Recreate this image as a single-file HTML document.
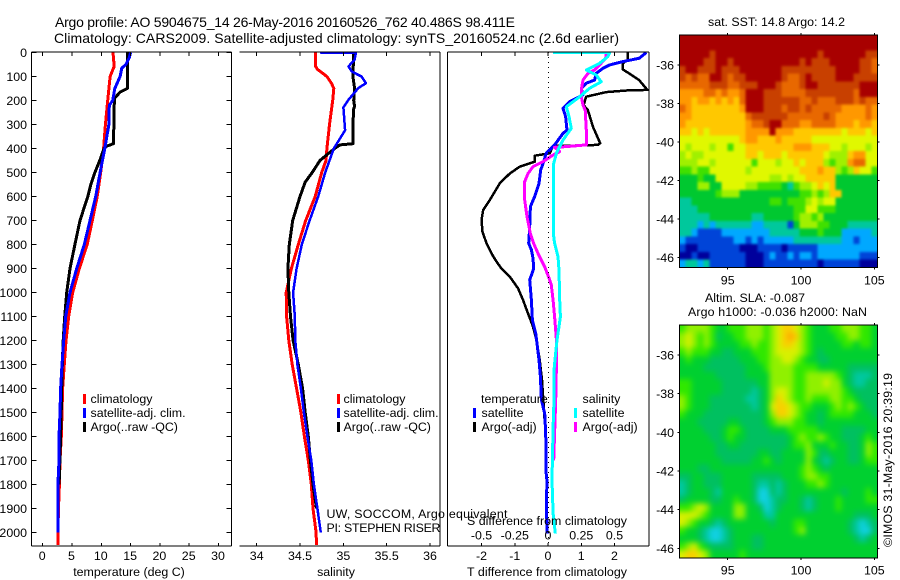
<!DOCTYPE html>
<html lang="en">
<head>
<meta charset="utf-8">
<title>Argo profile 5904675_14</title>
<style>
html,body{margin:0;padding:0;background:#fff;width:900px;height:580px;overflow:hidden}
svg{display:block}
text{font-family:"Liberation Sans",sans-serif;font-size:12.4px;fill:#000}
text.t14{font-size:14px}
</style>
</head>
<body>
<svg id="chart" xmlns="http://www.w3.org/2000/svg" width="900" height="580" viewBox="0 0 900 580">
  <text class="t14" x="55" y="27" textLength="460">Argo profile: AO 5904675_14 26-May-2016 20160526_762 40.486S 98.411E</text>
  <text class="t14" x="54" y="43" textLength="565">Climatology: CARS2009. Satellite-adjusted climatology: synTS_20160524.nc (2.6d earlier)</text>

  <g id="layer-maps"></g>
  <g id="layer-lines"></g>
  <g id="layer-axes"></g>

  <g>
    <rect x="83" y="394" width="3" height="10" fill="#ff0000"/>
    <rect x="83" y="408" width="3" height="10" fill="#0000ff"/>
    <rect x="83" y="422" width="3" height="10" fill="#000"/>
    <text x="90.5" y="403">climatology</text>
    <text x="90.5" y="417">satellite-adj. clim.</text>
    <text x="90.5" y="431">Argo(..raw -QC)</text>
  </g>
  <g>
    <rect x="337" y="394" width="3" height="10" fill="#ff0000"/>
    <rect x="337" y="408" width="3" height="10" fill="#0000ff"/>
    <rect x="337" y="422" width="3" height="10" fill="#000"/>
    <text x="343.5" y="403">climatology</text>
    <text x="343.5" y="417">satellite-adj. clim.</text>
    <text x="343.5" y="431">Argo(..raw -QC)</text>
  </g>
  <g>
    <text x="481" y="403">temperature</text>
    <text x="582.5" y="403">salinity</text>
    <rect x="473" y="408" width="3" height="10" fill="#0000ff"/>
    <rect x="473" y="422" width="3" height="10" fill="#000"/>
    <rect x="574" y="408" width="3" height="10" fill="#00ffff"/>
    <rect x="574" y="422" width="3" height="10" fill="#ff00ff"/>
    <text x="481.5" y="417">satellite</text>
    <text x="481.5" y="431">Argo(-adj)</text>
    <text x="582.5" y="417">satellite</text>
    <text x="582.5" y="431">Argo(-adj)</text>
  </g>

  <text x="129" y="576" text-anchor="middle">temperature (deg C)</text>
  <text x="336" y="576" text-anchor="middle">salinity</text>
  <text x="547" y="576" text-anchor="middle" textLength="160">T difference from climatology</text>
  <text x="547" y="525" text-anchor="middle" textLength="160">S difference from climatology</text>
  <text x="326.5" y="518" textLength="181">UW, SOCCOM, Argo equivalent</text>
  <text x="326.5" y="532" textLength="114">PI: STEPHEN RISER</text>

  <text x="776.5" y="26" text-anchor="middle" textLength="137">sat. SST: 14.8 Argo: 14.2</text>
  <text x="705" y="302" textLength="100">Altim. SLA: -0.087</text>
  <text x="688" y="316" textLength="179">Argo h1000: -0.036 h2000: NaN</text>
  <text transform="translate(892 547) rotate(-90)" textLength="174">©IMOS 31-May-2016 20:39:19</text>
</svg>
<script>
/* ---------- axis tick data ---------- */
const depthTicks = [0,100,200,300,400,500,600,700,800,900,1000,1100,1200,1300,1400,1500,1600,1700,1800,1900,2000];
const tempTicks = [0,5,10,15,20,25,30];
const salTicks = [34,34.5,35,35.5,36];
const salTickLabels = ['34','34.5','35','35.5','36'];
const tDiffTicks = [-2,-1,0,1,2];
const sDiffTicks = [-0.5,-0.25,0,0.25,0.5];
const sDiffTickLabels = ['-0.5','-0.25','0','0.25','0.5'];
const lonTicks = [95,100,105];
const latTicks = [-36,-38,-40,-42,-44,-46];

/* ---------- temperature panel ---------- */
const tempClimDepth = [0,58,100,200,300,400,500,600,700,800,900,1000,1100,1200,1300,1400,1500,1600,1700,1800,1900,2000,2052];
const tempClim = [12,12.2,11.5,11.1,10.7,10.4,9.9,9.3,8.47,7.6,6.25,5.12,4.44,3.98,3.69,3.4,3.3,3.18,2.96,2.85,2.7,2.6,2.6];
const tempSatDepth = [0,20,50,65,100,150,200,220,300,400,500,600,700,800,900,1000,1100,1200,1300,1400,1500,1600,1700,1800,1900,2000];
const tempSat = [15,14.8,14.2,13.5,13.2,12.3,11.95,11.36,11.3,10.6,9.8,9.05,8.07,7.1,5.8,4.66,3.92,3.58,3.29,3.05,2.96,2.78,2.78,2.6,2.6,2.6];
const tempArgoDepth = [0,150,165,190,230,380,390,400,455,500,550,600,700,800,900,1000,1100,1200,1300,1400,1500,1600,1800];
const tempArgo = [14.45,14.45,13.2,12.3,12.17,12.1,10.9,10.46,9.66,8.9,8.2,7.7,6.37,5.5,4.66,4.1,3.75,3.5,3.35,3.25,3.15,3.05,2.8];

/* ---------- salinity panel ---------- */
const salClimDepth = [0,58,70,100,130,150,200,300,400,450,500,600,700,800,900,1000,1100,1200,1300,1400,1500,1600,1700,1800,1900,2000,2052];
const salClim = [34.68,34.68,34.7,34.81,34.865,34.89,34.877,34.84,34.81,34.8,34.75,34.675,34.565,34.48,34.4,34.34,34.345,34.37,34.41,34.46,34.51,34.55,34.595,34.63,34.65,34.685,34.69];
const salSatDepth = [0,2,30,58,80,100,128,149,197,229,324,400,500,600,700,800,900,1000,1100,1200,1300,1400,1500,1600,1700,1800,1900,2000];
const salSat = [34.73,35.145,35.13,35.06,35.1,35.21,35.26,35.17,35.06,35,35.02,34.89,34.79,34.71,34.61,34.52,34.46,34.42,34.44,34.445,34.47,34.51,34.545,34.585,34.63,34.66,34.7,34.74];
const salArgoDepth = [0,100,150,200,225,235,300,380,385,400,420,450,500,540,600,700,800,900,1000,1100,1200,1300,1400,1500,1600,1700,1800,1900];
const salArgo = [35.12,35.11,35.13,35.12,35.13,35.12,35.11,35.11,34.96,34.9,34.83,34.73,34.64,34.56,34.5,34.415,34.376,34.36,34.37,34.39,34.42,34.48,34.53,34.56,34.595,34.62,34.65,34.69];

/* ---------- difference panel ---------- */
const tDiffArgoDepth = [0,30,45,70,115,156,158,165,184,219,240,309,378,385,390,420,430,455,476,504,545,615,656,698,747,795,837,865,900,934,983,1032,1087,1142,1198,1281,1365,1448,1538];
const tDiffArgo = [2.4,2.4,2.25,2.25,2.74,2.99,2.4,1.75,1.15,1.07,1.2,1.35,1.57,1.5,0.15,0.05,-0.4,-0.4,-0.85,-1.15,-1.45,-1.75,-1.95,-2,-1.97,-1.85,-1.7,-1.58,-1.4,-1.15,-0.9,-0.75,-0.6,-0.45,-0.35,-0.25,-0.18,-0.14,-0.1];
const tDiffSatDepth = [0,24,38,52,66,87,115,128,149,177,205,233,267,323,337,385,420,462,490,545,600,642,725,795,822,857,900,948,1032,1115,1170,1226,1281,1351,1448,1504,1587,1768,1782,1893,2004];
const tDiffSat = [2.96,2.74,2.25,1.85,1.65,1.45,1.4,1.15,1,1.05,0.65,0.45,0.53,0.57,0.45,0.2,-0.05,-0.15,-0.22,-0.27,-0.4,-0.53,-0.55,-0.58,-0.5,-0.45,-0.43,-0.55,-0.5,-0.47,-0.37,-0.32,-0.27,-0.23,-0.2,-0.1,-0.07,-0.05,-0.03,-0.05,-0.02];
const sDiffArgoDepth = [0,24,52,73,87,115,156,184,219,240,323,385,392,395,413,427,455,476,504,538,615,684,753,795,837,893,941,969,1032,1101,1198,1309,1448,1699];
const sDiffArgo = [0.438,0.433,0.388,0.35,0.3,0.263,0.25,0.25,0.263,0.28,0.288,0.288,0.138,0.05,0.088,0.038,-0.038,-0.113,-0.15,-0.175,-0.175,-0.158,-0.133,-0.108,-0.075,-0.025,0.008,0.025,0.038,0.05,0.063,0.063,0.058,0.043];
const sDiffSatDepth = [0,1,17,45,73,94,122,149,184,226,267,316,365,420,462,517,600,753,795,851,907,1032,1101,1142,1198,1267,1323,1448,1560,1699,1782,1920,2004];
const sDiffSat = [0.038,0.463,0.45,0.388,0.288,0.363,0.4,0.313,0.238,0.138,0.158,0.175,0.113,0.063,0.043,0.043,0.043,0.04,0.05,0.075,0.083,0.088,0.093,0.083,0.068,0.055,0.045,0.045,0.038,0.033,0.03,0.038,0.055];

/* ---------- map grids: colour-level values per row ---------- */
const sstGrid = [
[12,12,12,12,12,12,12,12,12,12,12,12,12,12,12,12,12,12,12,12,12,12,12,12,12,12,12,12,12,12,12,12,12],
[12,12,12,12,12,12,12,12,12,12,12,12,12,12,12,12,12,12,12,12,12,12,12,12,12,12,12,12,12,12,12,12,12],
[12,12,12,12,12,11,12,12,12,12,12,12,12,12,12,12,12,12,12,12,12,12,12,11,12,12,12,12,12,12,12,11,11],
[12,12,12,12,11,11,12,12,11,12,12,12,12,12,12,12,12,12,12,12,11,12,11,11,11,12,12,12,12,12,11,11,10],
[11,12,12,11,11,11,12,11,11,11,12,12,12,12,12,12,12,11,11,11,11,11,11,11,11,11,12,12,12,12,11,11,10],
[11,10,11,10,10,12,12,11,10,11,11,12,12,12,12,12,12,11,10,10,11,12,11,11,11,11,12,12,12,11,11,11,11],
[10,10,10,10,10,11,11,11,10,10,11,11,11,12,12,12,11,10,10,10,11,12,12,11,11,11,11,11,11,11,12,12,12],
[9,9,9,9,10,10,9,10,9,9,10,12,12,12,11,11,11,10,10,10,10,11,11,11,11,11,11,11,11,10,12,12,12],
[9,9,8,9,9,8,9,8,9,8,10,12,12,12,11,11,11,11,11,11,10,10,11,10,10,10,11,11,11,10,11,10,10],
[10,9,8,8,8,8,8,8,8,8,9,12,12,12,11,11,11,10,11,11,10,11,10,10,10,10,10,9,9,9,9,10,9],
[9,9,8,8,8,8,8,8,8,8,8,10,11,11,11,11,11,11,10,10,10,10,10,10,11,10,9,9,9,9,9,10,9],
[9,8,8,8,8,8,8,8,8,8,8,9,10,10,11,12,12,10,10,10,9,9,10,10,10,10,9,9,9,8,9,9,8],
[8,8,7,8,7,8,8,8,8,8,8,9,9,9,9,12,9,9,9,8,8,8,8,8,8,8,8,7,8,8,8,7,8],
[7,7,7,7,7,7,7,7,7,7,8,9,9,8,8,8,9,8,8,8,8,8,7,7,7,7,7,7,7,7,7,7,7],
[7,6,7,7,7,6,7,7,5,7,7,8,8,8,8,8,8,8,8,9,9,9,8,8,8,7,7,6,7,7,7,6,7],
[6,7,6,6,7,7,7,7,7,7,7,8,8,7,8,8,8,7,8,8,8,8,8,8,7,6,6,6,8,9,9,7,7],
[6,6,6,7,7,6,7,7,7,7,7,7,5,7,7,7,6,7,7,8,7,8,8,8,6,5,6,6,9,10,10,7,7],
[5,5,6,5,5,7,7,7,7,7,7,6,7,7,7,7,7,7,7,7,8,8,8,9,8,8,6,5,6,8,7,7,5],
[4,4,4,5,4,4,7,7,7,7,7,7,7,7,7,6,6,7,6,7,7,8,8,8,8,8,4,4,4,4,4,4,4],
[4,4,4,6,6,4,4,7,7,7,7,6,6,5,5,5,5,4,3,5,6,6,7,8,7,8,4,4,4,4,4,4,4],
[4,4,4,4,4,4,5,6,6,6,4,4,4,4,4,4,4,4,4,4,5,5,6,5,6,8,8,4,4,4,4,4,4],
[3,3,4,4,4,4,4,4,4,4,4,4,4,4,4,5,5,4,5,5,5,6,7,6,7,7,4,4,4,4,4,4,4],
[3,3,3,4,4,4,4,4,4,4,4,4,4,4,4,4,4,4,4,5,5,7,7,5,5,5,4,4,4,4,4,4,4],
[3,3,3,3,3,4,4,4,4,4,4,4,3,3,4,4,4,4,4,5,6,6,5,6,4,4,4,4,4,4,4,4,4],
[3,3,3,2,3,2,3,3,3,3,3,3,2,2,3,3,3,3,1,4,6,6,6,5,5,4,4,4,3,3,3,3,3],
[3,3,2,1,1,1,1,2,2,2,2,2,2,2,2,3,3,3,3,3,4,4,4,5,4,4,4,2,2,2,2,2,3],
[2,1,1,1,1,1,1,1,1,2,2,1,2,1,2,2,2,2,2,3,3,3,3,3,3,3,3,2,2,1,2,2,2],
[1,0,0,1,1,1,1,1,1,1,0,0,0,1,1,1,1,0,1,1,1,1,1,2,2,2,2,2,2,2,2,2,2],
[0,0,1,0,0,1,1,1,1,1,1,0,0,0,1,2,1,1,2,1,2,2,1,2,2,2,2,2,2,2,1,1,1],
[2,3,3,2,3,1,1,1,1,1,1,0,0,0,1,1,1,1,1,1,1,1,1,0,1,1,1,1,1,1,0,0,0]
];
const slaGrid = [
[4,5,5,5,5,4,3,3,4,4,4,5,5,5,4,5,6,7,7,6,5,4,3,3,3,4,4,5,5,5,4,4,3],
[5,6,5,4,5,4,2,3,3,4,4,5,5,5,4,5,6,7,8,7,5,4,3,3,3,3,4,4,5,5,4,4,3],
[5,6,5,4,5,4,3,3,3,3,4,4,5,4,4,5,6,7,7,6,5,4,3,3,3,3,3,4,4,3,4,4,3],
[4,5,4,4,4,3,3,2,2,3,3,3,4,4,4,5,6,6,6,6,5,4,3,2,3,3,3,3,3,3,3,3,3],
[3,4,3,3,3,2,2,2,2,2,3,3,3,4,4,5,5,6,6,5,4,3,3,2,2,3,3,3,3,3,3,3,3],
[3,3,3,3,2,2,2,2,2,2,2,3,3,3,4,5,5,5,5,4,4,4,4,3,3,3,3,3,2,2,2,2,2],
[3,3,3,3,3,3,2,2,2,2,2,3,3,3,3,5,5,5,5,4,4,5,5,5,5,5,4,3,2,1,1,1,2],
[4,4,3,3,3,3,3,2,2,2,2,2,2,3,3,5,5,5,5,4,4,5,5,5,6,5,5,3,2,1,1,2,2],
[4,4,3,3,3,3,3,2,2,2,2,2,1,2,3,5,6,6,5,4,4,5,5,5,5,5,5,4,3,2,2,2,2],
[5,4,3,3,3,2,2,2,2,2,2,1,1,2,3,5,7,6,5,4,4,5,4,4,4,5,5,4,4,3,2,2,2],
[5,4,3,3,3,2,2,2,2,2,2,2,1,2,3,6,7,7,6,5,4,4,3,3,3,4,5,4,5,4,3,2,2],
[4,3,3,3,2,2,2,2,2,2,2,2,2,2,3,5,7,7,6,5,4,3,3,2,3,4,4,4,4,3,3,3,2],
[3,3,3,2,2,2,2,2,3,3,2,2,2,2,3,4,5,5,5,4,4,3,3,2,3,3,3,3,3,3,3,3,3],
[3,3,3,3,2,2,2,3,4,4,3,2,2,2,2,3,3,3,4,4,4,4,4,3,3,3,3,2,2,2,2,3,3],
[3,3,3,3,3,2,2,3,4,3,3,2,2,2,2,2,2,2,3,4,5,4,4,5,4,3,3,2,2,2,3,4,3],
[3,3,3,3,3,3,2,2,3,3,2,2,2,2,2,2,2,2,3,4,4,5,3,3,3,4,3,3,2,2,3,5,4],
[3,3,3,3,3,3,2,2,2,2,2,2,2,3,3,2,2,3,3,3,3,5,4,2,2,3,3,3,2,2,3,5,4],
[3,3,3,3,3,3,3,2,2,2,2,2,3,3,4,3,2,3,3,3,3,5,3,2,1,2,3,3,2,2,3,4,4],
[3,3,3,2,2,3,3,3,3,3,3,3,3,3,3,3,3,3,3,3,4,5,4,3,2,3,3,3,3,3,3,3,3],
[2,2,3,3,2,2,2,3,3,3,3,3,2,2,2,2,2,3,3,3,4,5,5,4,4,3,3,3,3,3,3,3,3],
[1,2,3,3,2,2,2,3,3,3,3,3,2,1,1,2,1,2,3,3,3,4,4,5,4,3,3,3,3,3,3,3,3],
[1,2,3,3,3,2,1,3,3,3,3,3,2,0,0,2,1,2,3,3,3,3,3,3,3,3,3,2,3,3,3,4,3],
[2,3,3,3,3,2,2,3,3,4,3,3,2,0,0,1,2,2,3,3,2,1,2,3,3,3,4,3,3,3,3,4,4],
[4,4,5,6,5,3,3,3,3,5,5,3,3,2,0,1,2,3,3,3,2,1,2,3,3,3,4,3,3,3,3,3,3],
[6,6,6,5,4,3,3,3,3,5,5,3,3,3,1,1,3,3,3,3,3,3,3,3,3,3,3,3,3,2,2,2,3],
[6,5,4,3,3,2,1,2,3,3,3,3,3,3,3,2,3,3,3,4,4,3,3,3,3,3,3,3,2,1,0,1,2],
[4,3,3,2,1,0,0,1,2,3,3,3,3,3,3,3,3,3,3,4,5,3,3,3,3,3,3,3,2,1,0,0,2],
[3,3,3,2,1,0,0,1,2,3,3,3,2,2,3,3,3,3,3,3,3,3,3,3,3,3,3,3,3,2,1,2,3],
[4,5,6,4,3,2,2,2,2,3,3,3,2,2,3,3,3,3,3,3,3,3,3,3,3,3,3,3,3,3,3,3,3],
[6,7,7,6,5,3,3,3,3,3,4,3,3,3,3,3,3,3,3,3,3,3,3,3,3,3,3,3,3,3,3,3,3]
];

/* ---------- colour ramps (styles, kept apart from data) ---------- */
const sstColors = ['#00009c','#0044d8','#00a8ff','#00c89c','#00c830','#40e000','#a0f000','#e0f800','#ffc800','#ff9800','#e86800','#c84000','#a80000'];
const slaColors = ['#10d0e0','#00c8a0','#00c060','#00d030','#30e800','#90f000','#d8f000','#f8d000','#ffa800'];

/* ---------- helpers ---------- */
const NS = 'http://www.w3.org/2000/svg';
function make(parent, tag, attrs, txt){
  const e = document.createElementNS(NS, tag);
  for (const k in attrs) e.setAttribute(k, attrs[k]);
  if (txt !== undefined) e.textContent = txt;
  parent.appendChild(e);
  return e;
}
function linear(d0,d1,r0,r1){ return v => r0 + (v-d0)*(r1-r0)/(d1-d0); }

const lines = document.getElementById('layer-lines');
const axes = document.getElementById('layer-axes');
const maps = document.getElementById('layer-maps');

const yDepth = linear(0,2000,52.5,532.5);
const PANEL_TOP = 52, PANEL_BOTTOM = 546;
const xTemp = linear(0,30,42.7,218.5);
const xSal = linear(34,36,256.7,430);
const xTDiff = linear(0,2,548,614.5);
const xSDiff = linear(0,0.5,548,614.5);

/* ---------- defs ---------- */
const defs = make(document.getElementById('chart'),'defs',{});
const clip = make(defs,'clipPath',{id:'diff-clip'});
make(clip,'rect',{x:447,y:52,width:202,height:494});

function profile(depths, values, xs, color, width, name, clipped){
  const pts = depths.map((d,i)=> xs(values[i]).toFixed(1)+','+yDepth(d).toFixed(1)).join(' ');
  const attrs = {points:pts,fill:'none',stroke:color,'stroke-width':width,'shape-rendering':'crispEdges','stroke-linejoin':'round'};
  if (clipped) attrs['clip-path'] = 'url(#diff-clip)';
  const line = make(lines,'polyline',attrs);
  
  
}
profile(tempClimDepth,tempClim,xTemp,'#ff0000',3,'temperature-climatology-line');
profile(tempArgoDepth,tempArgo,xTemp,'#000000',3,'temperature-argo-line');
profile(tempSatDepth,tempSat,xTemp,'#0000ff',3,'temperature-satellite-line');
profile(salClimDepth,salClim,xSal,'#ff0000',3,'salinity-climatology-line');
profile(salArgoDepth,salArgo,xSal,'#000000',3,'salinity-argo-line');
profile(salSatDepth,salSat,xSal,'#0000ff',2.5,'salinity-satellite-line');

const zero = make(axes,'line',{x1:548.5,x2:548.5,y1:PANEL_TOP,y2:PANEL_BOTTOM,stroke:'#000','stroke-width':1,'stroke-dasharray':'1 4','shape-rendering':'crispEdges'});



profile(tDiffArgoDepth,tDiffArgo,xTDiff,'#000000',2.5,'t-difference-argo-line',true);
profile(tDiffSatDepth,tDiffSat,xTDiff,'#0000ff',3,'t-difference-satellite-line',true);
profile(sDiffArgoDepth,sDiffArgo,xSDiff,'#ff00ff',3,'s-difference-argo-line',true);
profile(sDiffSatDepth,sDiffSat,xSDiff,'#00ffff',3,'s-difference-satellite-line',true);

/* ---------- axes ---------- */
function seg(x1,y1,x2,y2,name){
  const s = make(axes,'line',{x1:x1,y1:y1,x2:x2,y2:y2,stroke:'#000','stroke-width':1,'shape-rendering':'crispEdges'});
  
  
}
function label(x,y,txt,anchor,name){
  const t = make(axes,'text',{x:x,y:y,'text-anchor':anchor},txt);
  
  
}
/* temperature frame */
seg(31.5,PANEL_TOP,231.5,PANEL_TOP,'temperature-top-spine');
seg(31.5,PANEL_BOTTOM,231.5,PANEL_BOTTOM,'temperature-bottom-spine');
seg(31.5,PANEL_TOP,31.5,PANEL_BOTTOM,'temperature-left-spine');
seg(231.5,PANEL_TOP,231.5,PANEL_BOTTOM,'temperature-right-spine');
depthTicks.forEach(d=>{
  const y = yDepth(d);
  seg(31.5,y,36.5,y,'depth-tick-left');
  seg(226.5,y,231.5,y,'depth-tick-right');
  label(27,y+4.5,String(d),'end','depth-tick-label');
});
tempTicks.forEach(v=>{
  const x = xTemp(v);
  seg(x,PANEL_TOP,x,PANEL_TOP+4,'temperature-tick-top');
  seg(x,PANEL_BOTTOM-3,x,PANEL_BOTTOM,'temperature-tick-bottom');
  label(x-0.5,560,String(v),'middle','temperature-tick-label');
});
/* salinity frame */
seg(239.5,PANEL_TOP,440,PANEL_TOP,'salinity-top-spine');
seg(239.5,PANEL_BOTTOM,440,PANEL_BOTTOM,'salinity-bottom-spine');
seg(440,PANEL_TOP,440,PANEL_BOTTOM,'salinity-right-spine');
salTicks.forEach((v,i)=>{
  const x = xSal(v);
  seg(x,PANEL_TOP,x,PANEL_TOP+4,'salinity-tick-top');
  seg(x,PANEL_BOTTOM-3,x,PANEL_BOTTOM,'salinity-tick-bottom');
  label(x,560,salTickLabels[i],'middle','salinity-tick-label');
});
/* difference frame */
seg(447.5,PANEL_TOP,649,PANEL_TOP,'difference-top-spine');
seg(447.5,PANEL_BOTTOM,649,PANEL_BOTTOM,'difference-bottom-spine');
seg(447.5,PANEL_TOP,447.5,PANEL_BOTTOM,'difference-left-spine');
seg(649,PANEL_TOP,649,PANEL_BOTTOM,'difference-right-spine');
tDiffTicks.forEach(v=>{
  const x = xTDiff(v);
  seg(x,PANEL_TOP,x,PANEL_TOP+4,'t-difference-tick-top');
  seg(x,PANEL_BOTTOM-3,x,PANEL_BOTTOM,'t-difference-tick-bottom');
  label(x,560,String(v),'middle','t-difference-tick-label');
});
sDiffTicks.forEach((v,i)=>{
  label(xSDiff(v),539.5,sDiffTickLabels[i],'middle','s-difference-tick-label');
});

/* ---------- maps ---------- */
const xLon = linear(95,105,727.7,874.3);
const LON0 = 91.7, DLON = 0.4095, LAT0 = -34.44, DLAT = -0.4019;
const EDGE_BLEED = 10;
function heatmap(grid, colors, yLat, cellName, mapName, labelY, blur){
  const top = yLat(LAT0), bottom = yLat(LAT0+grid.length*DLAT);
  const left = xLon(LON0), right = xLon(LON0+grid[0].length*DLON);

  const clipEl = make(defs,'clipPath',{id:mapName+'-clip'});
  make(clipEl,'rect',{x:left,y:top,width:right-left,height:bottom-top});
  const filterEl = make(defs,'filter',{id:mapName+'-soften',filterUnits:'userSpaceOnUse',x:left-EDGE_BLEED,y:top-EDGE_BLEED,width:right-left+2*EDGE_BLEED,height:bottom-top+2*EDGE_BLEED,'color-interpolation-filters':'sRGB'});
  make(filterEl,'feGaussianBlur',{stdDeviation:blur});

  const outer = make(maps,'g',{'clip-path':'url(#'+mapName+'-clip)'});
  
  
  const g = make(outer,'g',{'shape-rendering':'crispEdges',filter:'url(#'+mapName+'-soften)'});
  
  
  grid.forEach((row,r)=>{
    row.forEach((v,c)=>{
      let x0 = xLon(LON0+c*DLON), x1 = xLon(LON0+(c+1)*DLON);
      let y0 = yLat(LAT0+r*DLAT), y1 = yLat(LAT0+(r+1)*DLAT);
      if (c===0) x0 -= EDGE_BLEED;
      if (c===row.length-1) x1 += EDGE_BLEED;
      if (r===0) y0 -= EDGE_BLEED;
      if (r===grid.length-1) y1 += EDGE_BLEED;
      const cell = make(g,'rect',{x:x0,y:y0,width:x1-x0+0.5,height:y1-y0+0.5,fill:colors[Math.max(0,Math.min(colors.length-1,Math.round(v)))]});
      
      
    });
  });
  const frame = make(axes,'rect',{x:left,y:top,width:right-left,height:bottom-top,fill:'none',stroke:'#000','stroke-width':1,'shape-rendering':'crispEdges'});
  
  
  lonTicks.forEach(v=>{
    const x = xLon(v);
    seg(x,top-2,x,top,mapName+'-lon-tick-top');
    seg(x,bottom,x,bottom+2,mapName+'-lon-tick-bottom');
    label(x,labelY,String(v),'middle',mapName+'-lon-tick-label');
  });
  latTicks.forEach(v=>{
    const y = yLat(v);
    seg(left-2,y,left,y,mapName+'-lat-tick-left');
    seg(right,y,right+2,y,mapName+'-lat-tick-right');
    label(674,y+4.5,String(v),'end',mapName+'-lat-tick-label');
  });
}
heatmap(sstGrid, sstColors, linear(-36,-46,65,257.7), 'sst-cell', 'sst-map', 284.5, 1.3);
heatmap(slaGrid, slaColors, linear(-36,-46,355,548.3), 'sla-cell', 'sla-map', 574.5, 3);
</script>
</body>
</html>
